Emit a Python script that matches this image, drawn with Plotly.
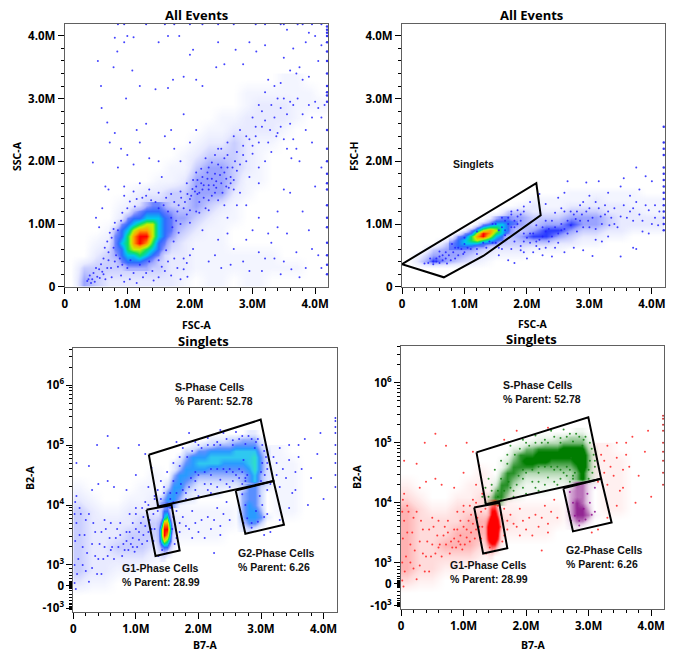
import math
import plotly.graph_objects as go

W, H = 673, 654
# ---------- density levels (0 empty .. 10 peak); rows run top to bottom
P1_XC = [0.1,0.3,0.5,0.7,0.9,1.1,1.3,1.5,1.7,1.9,2.1,2.3,2.5,2.7,2.9,3.1,3.3,3.5,3.7,3.9,4.1]
P1_YC = [3.3,3.1,2.9,2.7,2.5,2.3,2.1,1.9,1.7,1.5,1.3,1.1,0.9,0.7,0.5,0.3,0.1]
P1_Z = [
 [0,0,0,0,0,0,0,0,0,0,0,0,0,0,0,0,0,1,1,0,0],
 [0,0,0,0,0,0,0,0,0,0,0,0,0,0,1,1,1,1,1,1,0],
 [0,0,0,0,0,0,0,0,0,0,0,0,0,0,1,2,2,2,1,1,1],
 [0,0,0,0,0,0,0,0,0,0,0,0,1,1,2,2,2,2,1,0,0],
 [0,0,0,0,0,0,0,0,0,0,0,1,1,2,2,2,2,1,0,0,0],
 [0,0,0,0,0,0,0,0,0,0,1,2,2,3,2,1,1,0,0,0,0],
 [0,0,0,0,0,0,0,0,0,1,2,3,3,3,2,1,0,0,0,0,0],
 [0,0,0,0,0,0,0,0,1,1,3,4,4,3,2,1,0,0,0,0,0],
 [0,0,0,0,0,0,0,1,1,2,4,4,4,3,1,1,0,0,0,0,0],
 [0,0,0,0,0,1,2,2,3,3,4,4,4,2,1,0,0,0,0,0,0],
 [0,0,0,0,1,2,3,3,3,3,4,3,2,1,0,0,0,0,0,0,0],
 [0,0,0,0,2,3,4,4,4,4,3,2,1,1,0,0,0,0,0,0,0],
 [0,0,0,1,3,4,4,4,4,3,2,1,1,0,0,0,0,0,0,0,0],
 [0,0,1,2,3,4,4,4,3,2,1,1,1,0,0,0,0,0,0,0,0],
 [0,0,2,3,3,4,4,3,2,2,1,1,1,1,1,1,1,0,0,0,0],
 [0,3,3,3,3,3,3,3,2,2,1,1,1,1,1,1,1,1,1,0,0],
 [0,4,3,2,2,2,2,2,2,1,0,1,1,0,1,1,0,0,0,0,0],
]
P1_CORE_XC = [0.7,0.8,0.9,1.0,1.1,1.2,1.3,1.4,1.5,1.6,1.7,1.8]
P1_CORE_YC = [1.3,1.2,1.1,1.0,0.9,0.8,0.7,0.6,0.5,0.4,0.3]
P1_CORE_Z = [
 [0,0,0,0,0,0,3,4,4,3,0,0],
 [0,0,0,0,3,4,5,5,5,4,3,0],
 [0,0,0,4,5,5,6,6,6,5,4,0],
 [0,0,4,5,6,7,8,8,6,5,4,0],
 [0,3,5,6,8,9,9,8,6,5,4,0],
 [0,4,5,7,9,10,10,8,6,5,3,0],
 [0,4,6,7,9,10,9,7,5,4,0,0],
 [0,4,5,7,8,8,7,6,5,3,0,0],
 [0,3,5,6,6,7,6,5,4,0,0,0],
 [0,0,4,5,5,5,4,3,0,0,0,0],
 [0,0,0,3,3,3,3,0,0,0,0,0],
]
P2_XC = P1_XC
P2_YC = [1.6,1.5,1.4,1.3,1.2,1.1,1.0,0.9,0.8,0.7,0.6,0.5,0.4,0.3]
P2_Z = [
 [0,0,0,0,0,0,0,0,0,0,0,0,0,0,0,0,0,0,0,0,0],
 [0,0,0,0,0,0,0,0,0,0,0,0,0,1,1,1,1,1,1,0,0],
 [0,0,0,0,0,0,0,0,0,0,1,1,1,1,1,2,1,1,1,1,1],
 [0,0,0,0,0,0,0,0,0,1,2,1,1,2,2,2,2,2,1,1,1],
 [0,0,0,0,0,0,0,0,3,3,2,2,2,3,3,3,2,2,2,1,1],
 [0,0,0,0,0,0,0,3,4,4,3,3,3,4,4,4,3,2,2,2,2],
 [0,0,0,0,0,0,3,4,4,4,3,4,4,5,4,4,3,2,2,2,2],
 [0,0,0,0,0,3,4,4,4,3,4,5,5,4,3,3,2,2,1,1,1],
 [0,0,0,0,3,4,4,4,3,4,5,5,4,3,2,2,1,1,0,0,0],
 [0,0,0,3,4,4,4,3,3,3,3,3,2,2,1,1,0,0,0,0,0],
 [0,0,3,4,4,4,3,2,2,2,1,1,1,0,0,0,0,0,0,0,0],
 [0,2,4,4,4,3,2,1,1,1,0,0,0,0,0,0,0,0,0,0,0],
 [0,3,5,4,3,2,1,0,0,0,0,0,0,0,0,0,0,0,0,0,0],
 [0,0,0,0,0,0,0,0,0,0,0,0,0,0,0,0,0,0,0,0,0],
]
P2_CORE_XC = [0.8,0.9,1.0,1.1,1.2,1.3,1.4,1.5,1.6,1.7,1.8]
P2_CORE_YC = [1.10,1.05,1.00,0.95,0.90,0.85,0.80,0.75,0.70,0.65,0.60]
P2_CORE_Z = [
 [0,0,0,0,0,0,0,3,4,4,0],
 [0,0,0,0,0,0,3,5,5,5,4],
 [0,0,0,0,0,4,5,6,6,5,4],
 [0,0,0,0,4,6,7,7,6,5,0],
 [0,0,0,4,6,8,9,8,6,5,0],
 [0,0,4,5,8,10,9,7,6,4,0],
 [0,4,5,7,9,10,8,6,5,0,0],
 [3,5,6,7,8,7,6,5,4,0,0],
 [4,5,6,6,6,5,5,4,0,0,0],
 [4,5,5,5,4,4,0,0,0,0,0],
 [4,4,4,3,0,0,0,0,0,0,0],
]
# Bottom panels: y is in display decades of the biexponential B2-A scale
BG_XC = P1_XC
BG_YC = [4.9,4.7,4.5,4.3,4.1,3.9,3.7,3.5,3.3,3.1,2.9,2.7,2.5]
BG_Z = [
 [0,0,0,0,0,0,0,0,0,0,0,0,0,0,0,1,1,0,0,0,0],
 [0,0,0,0,0,0,0,0,0,0,0,0,0,0,0,1,1,1,0,0,0],
 [0,0,0,0,0,0,1,0,0,0,0,0,0,0,0,1,1,1,0,0,0],
 [1,0,0,0,0,1,1,0,0,0,0,0,0,0,0,0,1,1,0,0,0],
 [2,1,0,0,1,1,2,1,1,0,0,0,0,0,0,0,1,1,0,0,0],
 [3,2,1,1,2,2,2,1,1,1,1,1,1,0,0,0,1,1,0,0,0],
 [3,2,2,2,2,3,3,2,2,1,1,1,1,0,0,0,0,0,0,0,0],
 [3,2,2,2,3,3,3,1,1,1,1,1,0,0,0,0,0,0,0,0,0],
 [3,2,2,3,3,3,2,1,0,0,0,0,0,0,0,0,0,0,0,0,0],
 [3,2,2,2,2,2,1,0,0,0,0,0,0,0,0,0,0,0,0,0,0],
 [3,2,2,1,1,0,0,0,0,0,0,0,0,0,0,0,0,0,0,0,0],
 [2,1,1,0,0,0,0,0,0,0,0,0,0,0,0,0,0,0,0,0,0],
 [0,0,0,0,0,0,0,0,0,0,0,0,0,0,0,0,0,0,0,0,0],
]
S_XC = [1.3,1.4,1.5,1.6,1.7,1.8,1.9,2.0,2.1,2.2,2.3,2.4,2.5,2.6,2.7,2.8,2.9,3.0,3.1]
S_YC = [5.2,5.1,5.0,4.9,4.8,4.7,4.6,4.5,4.4,4.3,4.2,4.1,4.0]
S_Z = [
 [0,0,0,0,0,0,0,0,0,0,0,0,0,0,0,1,1,0,0],
 [0,0,0,0,0,0,0,0,0,1,1,1,2,2,3,3,3,1,0],
 [0,0,0,0,0,0,1,1,2,2,3,3,3,4,4,4,4,2,0],
 [0,0,0,0,0,2,2,4,4,5,5,5,5,6,6,6,6,3,1],
 [0,0,0,0,1,3,5,5,5,6,6,6,6,6,6,6,7,4,1],
 [0,0,0,1,2,4,5,6,6,6,6,5,5,5,5,6,7,4,1],
 [0,0,0,1,3,5,5,5,5,4,4,4,4,4,4,5,7,4,1],
 [0,0,0,3,5,5,4,3,3,3,3,3,3,3,3,4,6,3,1],
 [0,0,1,4,5,4,3,2,2,2,2,2,2,2,3,4,6,3,1],
 [0,0,2,5,5,3,2,1,1,1,1,1,1,1,1,1,0,0,0],
 [0,0,4,5,4,2,1,1,1,1,1,0,0,0,0,0,0,0,0],
 [0,2,5,5,3,1,1,0,0,0,0,0,0,0,0,0,0,0,0],
 [0,3,4,3,0,0,0,0,0,0,0,0,0,0,0,0,0,0,0],
]
G2_XC = [2.6,2.7,2.8,2.9,3.0,3.1,3.2]
G2_YC = [4.3,4.2,4.1,4.0,3.9,3.8,3.7,3.6]
G2_Z = [
 [0,1,4,4,2,1,0],
 [0,3,4,4,2,0,0],
 [0,3,4,4,2,0,0],
 [0,3,5,4,2,0,0],
 [0,3,5,5,3,0,0],
 [0,3,5,5,4,1,0],
 [0,2,4,4,2,0,0],
 [0,1,2,1,0,0,0],
]
G1_XC = [1.25,1.3,1.35,1.4,1.45,1.5,1.55,1.6,1.65]
G1_YC = [4.0,3.9,3.8,3.7,3.6,3.5,3.4,3.3,3.2,3.1]
G1_Z = [
 [0,0,0,2,3,4,2,0,0],
 [0,0,0,3,5,5,3,0,0],
 [0,0,1,3,6,7,4,1,0],
 [0,0,2,5,9,9,6,2,0],
 [0,0,3,7,10,10,7,3,0],
 [0,0,3,7,10,9,6,2,0],
 [0,0,3,6,8,7,5,2,0],
 [0,0,2,4,5,5,3,1,0],
 [0,0,1,2,3,2,1,0,0],
 [0,0,0,1,1,0,0,0,0],
]
# ---------- individual events
P1_POINTS = [(0.53,3.6),(0.58,3.2),(0.59,2.85),(0.68,2.62),(0.72,2.3),(0.8,3.97),(0.84,3.75),(0.95,3.9),(1.0,4.0),(1.1,3.98),(1.08,3.45),(0.78,3.5),(0.98,3.0),(1.2,3.2),(1.45,3.15),(1.65,3.17),(1.5,3.9),(1.65,4.0),(1.83,4.0),(2.0,3.7),(2.05,3.78),(2.1,3.3),(2.2,3.2),(1.9,3.35),(1.73,3.3),(2.55,3.55),(2.42,3.5),(2.45,3.9),(2.73,3.78),(2.85,3.55),(2.95,3.9),(3.06,3.75),(3.2,3.85),(3.5,3.65),(3.6,3.45),(3.75,3.5),(3.85,3.9),(3.9,4.05),(3.65,3.8),(4.0,4.0),(4.1,3.85),(4.05,3.6),(3.55,4.1),(3.25,3.3),(3.35,3.2),(3.45,3.25),(3.7,3.4),(3.8,3.3),(3.9,3.35),(0.45,1.98),(0.65,1.6),(0.7,1.55),(0.85,1.9),(0.8,2.45),(0.9,2.2),(1.0,2.1),(1.15,2.5),(1.2,2.3),(1.3,2.6),(1.1,1.95),(1.35,2.05),(1.5,2.0),(1.6,2.4),(1.7,2.5),(1.75,2.2),(1.9,2.75),(2.1,2.5),(2.0,2.3),(1.85,2.0),(1.55,1.75),(1.2,1.65),(0.95,1.6),(0.6,1.25),(0.5,1.1),(0.55,0.95),(2.2,0.9),(2.4,0.5),(2.5,0.3),(2.7,0.6),(2.85,0.4),(3.0,0.9),(3.2,0.45),(3.3,0.7),(3.45,0.2),(3.55,0.85),(3.7,0.55),(3.85,0.3),(3.9,0.9),(4.05,0.5),(2.6,1.1),(2.9,1.3),(3.1,1.1),(3.4,1.2),(3.6,1.5),(3.5,1.55),(3.8,1.2),(4.0,1.6),(4.1,1.9),(3.95,2.3),(3.65,2.35),(3.75,2.0),(3.1,1.9),(2.8,1.5),(2.55,1.3),(4.15,2.9),
(2.1,1.6),(2.2,1.75),(2.3,1.55),(2.4,1.8),(2.45,1.95),(2.5,1.65),(2.35,1.45),(2.15,1.35),(2.0,1.4),(1.9,1.25),(1.8,1.2),(1.7,1.1),(1.75,1.35),(2.6,1.9),(2.65,1.75),(2.55,2.05),(2.75,2.15),(2.85,2.25),(2.95,2.35),(2.8,2.5),(3.05,2.4),(3.15,2.55),(3.25,2.3),(3.35,2.7),(3.45,2.85),(3.5,3.0),(3.2,3.1),(3.0,2.7),(2.7,2.4),(2.6,2.3),(3.3,2.15),(3.6,2.6),(3.7,2.2),(3.8,2.75),(3.9,2.9),(4.0,2.95),(4.1,2.7),(3.1,2.9),(2.5,2.2),(2.3,1.9),(2.25,2.05),(2.4,2.1),
(2.12,1.48),(2.22,1.62),(2.28,1.72),(2.38,1.62),(2.48,1.78),(2.58,1.6),(2.18,1.88),(2.04,1.56),(1.96,1.48),(1.86,1.42),(1.62,1.42),(1.5,1.5),(1.38,1.38),(1.24,1.42),(1.12,1.28),(1.04,1.36),(0.92,1.18),(0.8,1.02),(0.72,0.86),(0.64,0.62),(0.7,0.42),(0.82,0.5),(0.58,0.36),(0.46,0.22),(0.38,0.12),(0.42,0.06),(0.52,0.16),(0.6,0.24),(0.74,0.3),(0.9,0.18),(1.04,0.12),(1.15,0.06),(1.3,0.22),(1.42,0.1),(1.55,0.32),(1.7,0.18),(1.8,0.3),(1.9,0.45),(1.96,0.16),(2.05,0.6),(1.62,0.58),(1.74,0.72),(1.82,0.86),(2.0,1.02),(2.15,1.18),(2.3,1.22),(2.45,1.38),(2.7,1.7),(2.9,2.0),(3.0,2.12),(3.2,2.0),(3.4,2.45),(3.55,2.2),
(1.0,0.3),(1.05,0.42),(1.1,0.22),(1.2,0.35),(1.25,0.15),(1.35,0.4),(1.4,0.25),(1.5,0.15),(1.5,0.42),(1.6,0.25),(1.65,0.4),(1.75,0.45),(1.85,0.12),(1.9,0.28),(1.95,0.38),(2.0,0.5),(0.95,0.08),(0.85,0.32),(0.75,0.15),(0.65,0.12),(0.55,0.28),(0.62,0.45),(0.5,0.3),(0.7,0.55),(0.78,0.62),(0.68,0.72),(0.75,0.78),(0.85,0.9),(0.9,1.05),(0.78,0.92),(0.4,0.18),(0.44,0.12),(0.36,0.09),(0.48,0.08),(0.56,0.14),(0.62,0.2),(0.68,0.3),(0.8,0.4),(0.92,0.35),(0.88,0.45),
(1.72,0.95),(1.78,1.05),(1.85,1.0),(1.95,1.15),(1.65,1.2),(1.58,1.3),(1.45,1.35),(1.3,1.45),(1.15,1.4),(1.0,1.25),(0.95,1.45),(1.1,1.52),(1.35,1.55),(1.5,1.25),(1.7,1.48),(1.85,1.52),(1.95,1.65),(2.05,1.7),(2.1,1.82),(2.15,1.5),(2.22,1.42),(2.3,1.38),(2.4,1.5),(2.42,1.68),(2.52,1.5),(2.58,1.72),(2.62,1.58),(2.68,1.9),(2.72,2.0),(2.8,1.95),(2.6,2.1),(2.5,1.9),(2.45,2.2),(2.35,1.98),(2.28,1.82),(2.18,1.65),(2.08,1.52),(2.25,1.25),(2.1,1.2),(2.0,1.22),(1.92,1.35),(1.82,1.3),(2.35,1.72),(2.55,1.82),(2.42,1.58),(2.3,1.62),(2.2,1.55),(2.12,1.7),(2.02,1.45),(2.65,1.65),(2.75,1.85),(2.85,2.1),(2.9,2.4),(3.0,2.25),(3.05,2.55),(3.1,2.3),(3.2,2.65),(3.28,2.5),(3.38,2.4),(3.45,2.55),(3.55,2.75),(3.65,2.9),(3.72,3.0),(3.3,2.9),(3.15,2.8),(3.4,3.0),(3.85,2.5),(3.95,2.7),(4.05,2.85),(3.6,2.95),(3.5,2.35),(3.62,2.05),(2.7,1.55),(2.95,1.75),(3.1,1.65),(2.75,1.3),(2.6,0.85),(2.45,0.75),(2.3,0.4),(2.65,0.35),(2.95,0.25),(3.15,0.25),(3.35,0.45),(3.5,0.4),(3.62,0.28),(3.75,0.15),(3.95,0.6),(4.1,0.3),(2.9,0.75),(3.1,0.55),(3.25,0.85),(3.4,0.95)]
P1_EDGE_Y = [0.2,0.35,0.5,0.7,0.95,1.1,1.3,1.55,1.65,1.8,2.0,2.2,2.5,2.95,3.05,3.1,3.2,3.4,3.6,3.75,3.9,4.0,4.05,4.1,4.15]
P1_TOP_X = [0.85,0.95,1.3,1.6,1.75,2.0,2.2,2.45,2.7,3.05,3.2,3.45,3.5,3.72,3.8,3.95,4.1]
P2_POINTS = [(2.3,1.32),(2.5,1.42),(2.6,1.5),(2.65,1.68),(2.95,1.66),(3.0,1.45),(3.15,1.68),(3.3,1.5),(3.5,1.6),(3.55,1.73),(3.75,1.9),(3.9,1.76),(4.0,1.68),(3.8,1.55),(3.65,1.45),(2.2,1.48),(2.05,1.35),(1.95,1.28),(2.25,0.5),(2.4,0.48),(2.6,0.55),(2.75,0.62),(2.9,0.58),(3.05,0.49),(3.5,0.48),(3.7,0.62),(3.75,0.6),(3.85,0.88),(3.95,0.85),(3.3,0.8),(3.2,0.72),(3.1,0.75),(2.0,0.45),(1.9,0.58),(1.7,0.42),(1.8,0.38),(1.55,0.5),(2.15,0.65),(2.35,0.72),(2.5,0.7),(2.8,0.88),(3.0,0.95),(3.4,1.0),(3.6,1.1),(3.7,1.25),(3.8,1.15),(4.05,1.1),(4.1,0.98),(3.95,1.22),(3.25,1.3),(3.1,1.35),(2.85,1.3),(2.7,1.2),(2.45,1.18),(2.3,1.05),(2.15,0.98),(2.05,0.85),(1.95,0.72),(1.85,1.12),(1.75,1.2),(1.6,1.1),(1.45,1.0),(1.2,0.88),(1.0,0.78),(0.8,0.68),(0.6,0.56),(0.45,0.45),(0.36,0.37),(0.42,0.38),(0.55,0.4),(0.65,0.42),(0.72,0.37),(0.85,0.45),(0.98,0.52),(1.1,0.6),(1.2,0.52),(1.35,0.62),(1.5,0.7),(1.65,0.82),(1.8,0.95),(1.9,1.05),(2.55,0.9),(2.65,1.05),(2.78,1.08),(2.88,1.15),(2.98,1.05),(3.18,1.12),(3.32,0.98),
(2.1,0.85),(2.2,0.75),(2.25,0.95),(2.3,0.88),(2.4,0.8),(2.45,0.95),(2.5,0.85),(2.55,1.0),(2.6,0.92),(2.65,0.85),(2.7,0.98),(2.75,1.15),(2.85,1.05),(2.9,0.95),(2.95,1.2),(3.05,1.1),(3.1,0.92),(3.2,1.0),(3.25,1.15),(3.35,1.1),(3.4,1.25),(3.45,0.95),(3.5,1.12),(3.55,1.3),(3.65,1.2),(3.7,1.05),(3.75,1.35),(3.85,1.05),(3.9,1.3),(4.0,1.0),(4.05,1.3),(4.12,1.2),(2.0,0.78),(2.05,0.7),(1.95,0.85),(2.15,0.72),(2.25,0.8),(2.35,0.92),(2.4,1.05),(2.6,1.2),(2.55,1.25),(2.8,1.2),(2.9,1.35),(3.0,1.25),(3.15,1.25),(3.3,1.2),(1.9,0.65),(1.8,0.72),(1.75,0.6),(1.6,0.6),(1.55,0.62),(1.95,0.55),(2.1,0.55),(2.2,0.6),(2.3,0.62),(2.45,0.62),
(0.5,0.36),(0.55,0.45),(0.6,0.38),(0.65,0.5),(0.7,0.45),(0.7,0.55),(0.75,0.5),(0.78,0.42),(0.82,0.55),(0.85,0.62),(0.9,0.5),(0.9,0.62),(0.95,0.6),(1.0,0.55),(1.0,0.68),(1.05,0.62),(0.6,0.48),(0.5,0.4),(1.7,1.0),(1.75,0.95),(1.8,1.05),(1.85,1.0),(1.7,1.1),(1.75,1.15),(1.65,1.05),(1.6,0.95),(1.9,1.15),(1.95,1.2),(1.85,1.22),(1.55,0.9),(1.5,1.0),(1.65,0.9),(1.2,0.6),(1.3,0.7),(1.4,0.72),(1.45,0.7)]
P2_EDGE_Y = [0.9,1.0,1.1,1.2,1.3,1.4,1.5,1.6,1.7,1.8,1.9,2.1,2.2,2.3,2.55]
BG_POINTS = [(0.55,5.15),(0.38,5.0),(0.25,4.65),(0.4,4.35),(0.05,4.7),(0.3,4.25),(0.55,4.4),(0.65,4.3),(0.85,4.25),(1.0,4.5),(1.05,5.0),(0.72,4.95),(1.2,4.3),(1.1,3.95),(1.0,3.85),(0.7,3.6),(0.5,3.75),(0.35,3.55),(0.2,3.75),(0.05,4.15),(0.1,3.95),(0.15,3.3),(0.3,2.95),(0.45,2.85),(0.25,2.72),(0.4,3.1),(0.6,3.25),(0.78,3.15),(0.95,3.3),(1.05,3.42),(1.2,3.55),(0.85,3.55),(1.7,3.55),(1.85,3.6),(2.05,3.75),(2.2,3.6),(2.35,3.5),(2.5,3.75),(2.1,3.45),(1.9,3.9),(2.3,3.95),(2.45,4.05),(1.75,2.95),(2.25,3.2),(3.3,3.75),(3.45,3.95),(3.55,4.25),(3.65,4.6),(3.75,4.0),(3.2,4.8),(3.3,4.95),(3.45,5.0),(3.6,4.8),(3.8,4.45),(3.9,4.85),(3.95,5.2),(4.0,4.1),(3.6,5.0),(3.7,5.1),(1.85,5.2),(2.35,5.25),(1.65,5.05),(1.15,4.85),(1.25,4.62),(3.05,3.5),(3.15,3.55),
(0.02,3.0),(0.03,3.4),(0.05,3.7),(0.02,3.85),(0.03,4.05),(0.06,2.85),(0.08,3.1),(0.1,3.5),(0.12,3.85),(0.02,2.7),(0.04,2.6),(0.15,3.0),(0.18,3.5),(0.2,2.9),(0.22,3.2),(0.25,3.85),(0.3,3.35),(0.32,3.7),(0.35,3.15),(0.38,2.85),(0.42,3.35),(0.45,3.55),(0.48,3.1),(0.5,3.3),(0.52,3.6),(0.55,3.15),(0.58,3.45),(0.6,3.7),(0.62,3.3),(0.65,3.1),(0.68,3.45),(0.72,3.3),(0.75,3.5),(0.75,3.7),(0.8,3.35),(0.82,3.25),(0.85,3.4),(0.88,3.25),(0.9,3.55),(0.92,3.35),(0.95,3.45),(0.98,3.22),(1.0,3.6),(1.02,3.3),(1.05,3.55),(1.08,3.7),(1.1,3.35),(1.12,3.5),(1.15,3.65),(1.18,3.4),(1.22,3.75),(1.25,3.6),(1.28,3.85),(1.12,3.8),(0.95,3.7),(1.0,3.95),(0.9,3.85),(1.2,4.0),(1.3,4.15),(1.15,4.05),(1.65,3.9),(1.75,3.8),(1.8,3.65),(1.95,3.7),(2.0,3.55),(2.15,3.8),(2.25,3.75),(2.35,3.65),(2.4,3.85),(1.7,3.7),(1.65,3.45),(1.9,3.45),(3.15,4.35),(3.25,4.5),(3.3,4.3),(3.35,4.6),(3.25,4.7),(3.4,4.45),(3.45,4.75),(3.5,4.2),(3.55,4.55)]
BG_EDGE_Y = [4.3,4.5,4.7,4.85,5.0,5.2,5.3,5.4,5.45]
S_POINTS = [(1.4,4.4),(1.5,4.55),(1.6,4.7),(1.75,4.95),(1.95,5.05),(2.15,5.12),(2.4,5.2),(2.6,5.22),(2.8,5.15),(2.95,5.1),(3.05,4.9),(3.1,4.6),(3.0,4.4),(2.7,4.35),(2.5,4.3),(2.2,4.2),(2.0,4.15),(1.8,4.1),(1.6,4.05),(1.95,4.4),(2.2,4.5),(2.45,4.55),(2.65,4.6),(2.55,4.4),(2.35,4.42),(2.1,4.35),(2.75,4.45),(1.35,4.25),(1.45,4.3),(1.7,4.8),(2.0,5.0),(2.3,5.05),(2.55,5.08),(2.75,5.02),(2.9,4.95),(3.02,4.7),(1.3,4.1),
(1.5,4.0),(1.55,4.2),(1.6,4.4),(1.7,4.65),(1.82,4.8),(1.9,4.9),(2.05,4.95),(2.15,5.0),(2.25,5.0),(2.35,5.0),(2.45,5.1),(2.55,5.0),(2.65,5.1),(2.7,5.15),(2.85,5.1),(2.92,5.05),(3.02,5.0),(3.08,4.8),(3.1,4.7),(3.06,4.5),(3.0,4.55),(2.7,4.55),(2.72,4.75),(2.75,4.4),(2.78,4.5),(2.6,4.5),(2.5,4.6),(2.4,4.6),(2.3,4.6),(2.2,4.6),(2.1,4.55),(2.0,4.5),(1.95,4.55),(1.88,4.45),(1.85,4.3),(1.75,4.25),(1.72,4.35),(1.65,4.2),(1.55,4.1),(1.4,4.1),(1.45,4.2),(1.35,4.0),(2.2,4.35),(2.3,4.3),(2.45,4.35),(2.55,4.55),(2.65,4.45),(2.15,4.25),(1.95,4.25),(1.8,4.2)]
G2_POINTS = [(2.7,4.18),(2.75,4.0),(2.68,3.85),(2.72,3.7),(2.85,3.62),(2.95,3.72),(3.05,3.8),(3.1,3.85),(3.02,4.0),(2.98,4.15),(3.1,4.25),(2.85,3.7),(2.78,3.78),(2.92,3.9)]
G1_POINTS = [(1.3,3.6),(1.28,3.4),(1.36,3.15),(1.58,3.6),(1.6,3.8),(1.62,3.35),(1.55,3.95),(1.35,3.9),(1.42,3.25),(1.5,3.2)]

PANELS = [  # left, right, top, bottom in pixels
 (64.7,328.3,24,286.7),(402,665,24,286.7),(73.3,336.7,348,611.7),(401,664.3,345.7,609.3)]
TITLES = ["All Events","All Events","Singlets","Singlets"]
TITLE_POS = [(196,15),(531,15),(203,341),(531,339)]
XTITLES = ["FSC-A","FSC-A","B7-A","B7-A"]
XTITLE_POS = [(197,325),(533,324),(205,645),(533,645)]
YTITLES = ["SSC-A","FSC-H","B2-A","B2-A"]
YTITLE_POS = [(17,156),(354,156),(30,478),(357,477)]
X_TICKS = [0,1,2,3,4]
X_LABELS = ["0","1.0M","2.0M","3.0M","4.0M"]
B_TICKS = [2.28,2.65,3,4,5,6]
B_LABELS = ["-10<sup>3</sup>","0","10<sup>3</sup>","10<sup>4</sup>","10<sup>5</sup>","10<sup>6</sup>"]
SINGLET_GATE = [(0,0.36),(2.15,1.65),(2.22,1.14),(1.30,0.49),(0.67,0.15),(0,0.36)]
S_GATE = [(1.207,4.84),(2.995,5.425),(3.2,4.40),(1.356,3.975),(1.207,4.84)]
G1_GATE = [(1.17,3.92),(1.57,4.0),(1.70,3.24),(1.314,3.15),(1.17,3.92)]
G2_GATE = [(2.596,4.24),(3.2,4.40),(3.367,3.67),(2.75,3.52),(2.596,4.24)]

BLUE = "#2222ff"
JET = [[0,"rgba(235,238,255,0)"],[0.1,"rgba(235,238,255,0.6)"],[0.2,"#e8eaff"],[0.3,"#c9ceff"],[0.4,"#9aa4ff"],
       [0.5,"#2a3cff"],[0.6,"#00c8f0"],[0.7,"#10e060"],[0.8,"#c8f000"],[0.9,"#ffa000"],[1,"#ff0000"]]
OVER = [[0,"rgba(90,105,255,0)"],[0.3,"rgba(90,105,255,0.3)"],[0.4,"rgba(70,100,255,0.7)"],
        [0.5,"#2f6cff"],[0.6,"#00c8f0"],[0.7,"#10e060"],[0.8,"#c8f000"],[0.9,"#ffa000"],[1,"#ff0000"]]
ARCH = [[0,"rgba(90,130,255,0)"],[0.2,"rgba(90,130,255,0.3)"],[0.3,"rgba(90,130,255,0.6)"],[0.4,"#5a90ff"],
        [0.5,"#2a9cff"],[0.6,"#30c8f0"],[0.7,"#30e0c8"],[1,"#30e0c8"]]
def mono(r,g,b):
    return [[0,f"rgba({r},{g},{b},0)"],[0.1,f"rgba({r},{g},{b},0.06)"],[0.2,f"rgba({r},{g},{b},0.14)"],
            [0.3,f"rgba({r},{g},{b},0.3)"],[0.4,f"rgba({r},{g},{b},0.55)"],[0.55,f"rgb({r},{g},{b})"],[1,f"rgb({r},{g},{b})"]]
RED, GREEN, PURPLE = mono(255,0,0), mono(0,125,0), mono(128,0,128)

fig = go.Figure()
def heat(i,xc,yc,z,scale):
    fig.add_trace(go.Heatmap(x=xc,y=yc[::-1],z=z[::-1],colorscale=scale,zmin=0,zmax=10,zsmooth="best",
                             showscale=False,hoverinfo="skip",xaxis=f"x{i}",yaxis=f"y{i}"))
def dots(i,pts,color,size=2):
    fig.add_trace(go.Scatter(x=[p[0] for p in pts],y=[p[1] for p in pts],mode="markers",cliponaxis=True,
                             marker=dict(color=color,size=size,line_width=0),opacity=0.85,
                             hoverinfo="skip",xaxis=f"x{i}",yaxis=f"y{i}"))
def gate(i,pts):
    fig.add_trace(go.Scatter(x=[p[0] for p in pts],y=[p[1] for p in pts],mode="lines",cliponaxis=False,
                             line=dict(color="black",width=2),hoverinfo="skip",xaxis=f"x{i}",yaxis=f"y{i}"))

heat(1,P1_XC,P1_YC,P1_Z,JET); dots(1,P1_POINTS,BLUE); heat(1,P1_CORE_XC,P1_CORE_YC,P1_CORE_Z,OVER)
dots(1,[(4.19,v) for v in P1_EDGE_Y],"#1010ee",2.5)
dots(1,[(v,4.185) for v in P1_TOP_X],"#1010ee",2)
heat(2,P2_XC,P2_YC,P2_Z,JET); dots(2,P2_POINTS,BLUE); heat(2,P2_CORE_XC,P2_CORE_YC,P2_CORE_Z,OVER)
dots(2,[(4.19,v) for v in P2_EDGE_Y],"#1010ee",2.5)
gate(2,SINGLET_GATE)
heat(3,BG_XC,BG_YC,BG_Z,JET); dots(3,BG_POINTS+S_POINTS+G2_POINTS+G1_POINTS,BLUE)
heat(3,S_XC,S_YC,S_Z,ARCH); heat(3,G2_XC,G2_YC,G2_Z,ARCH); heat(3,G1_XC,G1_YC,G1_Z,OVER)
dots(3,[(4.19,v) for v in BG_EDGE_Y],"#1010ee",2)
for g in (S_GATE,G1_GATE,G2_GATE): gate(3,g)
heat(4,BG_XC,BG_YC,BG_Z,RED); dots(4,BG_POINTS+G1_POINTS,"#ff2020"); dots(4,S_POINTS,"#108010"); dots(4,G2_POINTS,"#901090")
heat(4,S_XC,S_YC,S_Z,GREEN); heat(4,G2_XC,G2_YC,G2_Z,PURPLE); heat(4,G1_XC,G1_YC,G1_Z,RED)
dots(4,[(4.19,v) for v in BG_EDGE_Y],"#c01010",2)
for g in (S_GATE,G1_GATE,G2_GATE): gate(4,g)

TICK_FONT = dict(family="Open Sans",size=11.5,color="black",weight=700)
TITLE_FONT = dict(family="Open Sans",size=13,color="black",weight=700)
AXT_FONT = dict(family="Open Sans",size=10.5,color="black",weight=700)
x_minor = [k*0.2 for k in range(1,21) if k%5]
b_minor = [3+math.log10(m)+k for k in range(0,3) for m in range(2,10)]
b_minor += [6+math.log10(m) for m in (2,3,4)]
b_minor += [2.65+d for d in (-0.05,-0.035,-0.02,-0.01,0.01,0.02,0.035,0.05,0.08,0.12,0.17,0.23,0.29)]
b_minor += [2.28+d for d in (-0.02,-0.01,0.01,0.02,0.035,0.055,0.08,0.12,0.17,0.23,0.3)]
layout = dict(width=W,height=H,margin=dict(l=0,r=0,t=0,b=0),autosize=False,showlegend=False,
              paper_bgcolor="white",plot_bgcolor="white")
ann = []
def paper(text,pos,font,angle=0):
    ann.append(dict(text=text,xref="paper",yref="paper",x=pos[0]/W,y=1-pos[1]/H,xanchor="center",yanchor="middle",
                    textangle=angle,showarrow=False,font=font,borderpad=0))
for n,(l,r,t,b) in enumerate(PANELS,1):
    ax = "" if n==1 else str(n)
    common = dict(showgrid=False,zeroline=False,showline=True,mirror=True,linecolor="#606060",linewidth=1,
                  ticks="outside",tickcolor="black",tickwidth=1.4,ticklen=6,tickfont=TICK_FONT,automargin=False)
    minor = lambda vals: dict(tickvals=vals,ticks="outside",ticklen=3,tickcolor="black",tickwidth=1)
    layout["xaxis"+ax] = dict(common,domain=[l/W,r/W],anchor=f"y{n}",range=[0,4.21],tickvals=X_TICKS,ticktext=X_LABELS,minor=minor(x_minor))
    if n<3:
        yax = dict(range=[0,4.19],tickvals=X_TICKS,ticktext=X_LABELS,minor=minor(x_minor))
    else:
        yax = dict(range=[2.22,6.62],tickvals=B_TICKS,ticktext=B_LABELS,minor=minor(b_minor))
    layout["yaxis"+ax] = dict(common,domain=[1-b/H,1-t/H],anchor=f"x{n}",**yax)
    paper(TITLES[n-1],TITLE_POS[n-1],TITLE_FONT)
    paper(XTITLES[n-1],XTITLE_POS[n-1],AXT_FONT)
    paper(YTITLES[n-1],YTITLE_POS[n-1],AXT_FONT,-90)
LABEL = dict(family="Liberation Sans",size=10.5,color="#111111",weight=700)
ann.append(dict(text="Singlets",xref="x2",yref="y2",x=0.78,y=1.96,xanchor="left",showarrow=False,font=LABEL))
for n in (3,4):
    for text,x,y in (("S-Phase Cells<br>% Parent: 52.78",1.6,5.85),("G1-Phase Cells<br>% Parent: 28.99",0.745,2.84),("G2-Phase Cells<br>% Parent: 6.26",2.6,3.09)):
        ann.append(dict(text=text,xref=f"x{n}",yref=f"y{n}",x=x,y=y,xanchor="left",align="left",showarrow=False,font=LABEL))
layout["annotations"] = ann
fig.update_layout(**layout)
fig.write_html("out.html",config={"displayModeBar":False},post_script="document.body.style.margin='0';")
